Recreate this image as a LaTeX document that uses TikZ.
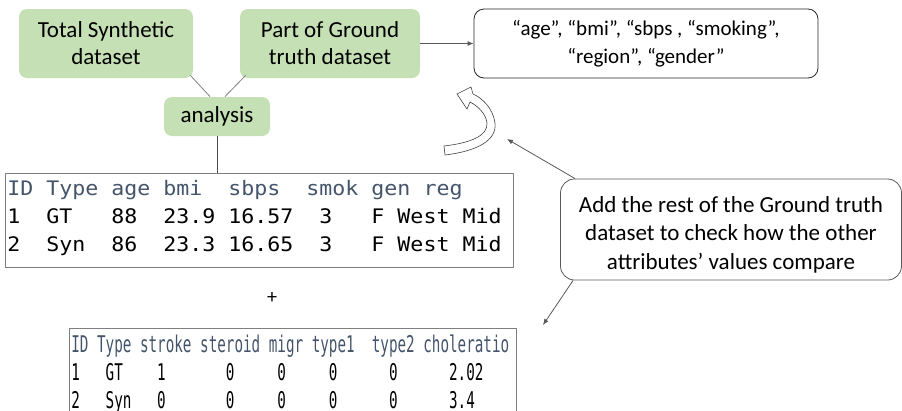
\documentclass[tikz,border=0pt]{standalone}
\usepackage{fontspec}
\setmainfont{Carlito}
\newfontfamily\tabfont[FakeStretch=1.08]{DejaVu Sans Mono}
\newfontfamily\tabnarrow[FakeStretch=0.62]{DejaVu Sans Mono}
\newcommand{\colgap}{\settowidth{\spaceskip}{0}\xspaceskip=\spaceskip}
\usetikzlibrary{arrows.meta,shapes}
\definecolor{boxgreen}{HTML}{C5E0B4}
\definecolor{headblue}{HTML}{44546A}
\definecolor{linegray}{HTML}{7F7F7F}

\begin{document}
\begin{tikzpicture}[x=1pt,y=-1pt,line width=0.8pt,>={Latex[length=6pt,width=5pt]}]
\tikzstyle{grn}=[fill=boxgreen,rounded corners=8pt,font=\fontsize{23}{27}\selectfont,align=center,inner sep=0pt];
\tikzstyle{note}=[draw=black!85,rounded corners=10pt,font=\fontsize{21}{28}\selectfont,align=center,inner sep=0pt];
\tikzstyle{tab}=[draw=linegray,align=left,anchor=north west,inner xsep=2pt,inner ysep=0pt];
\tikzstyle{link}=[draw=linegray];
\tikzstyle{dir}=[->,draw=black!65];

\useasboundingbox (0,0) rectangle (902,410);

\node [grn,minimum width=174,minimum height=69] (tsyn) at (106,43.5) {Total Synthetic\\dataset};
\node [grn,minimum width=180,minimum height=69] (pgt) at (330,43.5) {Part of Ground\\truth dataset};
\node [grn,minimum width=106,minimum height=39] (ana) at (217,116.5) {analysis};
\node [note,minimum width=344,minimum height=69] (attr) at (646,43.5) {“age”, “bmi”, “sbps , “smoking”,\\“region”, “gender”};
\node [note,draw=black!65,rounded corners=14pt,font=\fontsize{23}{28.5}\selectfont,minimum width=341,minimum height=101] (add) at (731,229.5) {\rule{0pt}{26pt}Add the rest of the Ground truth\\dataset to check how the other\\attributes’ values compare};

\node [tab,text width=504,minimum height=94,font=\tabfont\fontsize{20}{28}\selectfont] (tgt) at (5,173) {\colgap\textcolor{headblue}{ID Type age bmi~~sbps~~smok gen reg}\\
1~~GT~~~88~~23.9 16.57~~3~~~F West Mid\\
2~~Syn~~86~~23.3 16.65~~3~~~F West Mid\rule[-10pt]{0pt}{0pt}};
\node [font=\fontsize{20}{24}\selectfont] (plus) at (272,298) {+};
\node [tab,text width=443,minimum height=92,font=\tabnarrow\fontsize{23}{28}\selectfont] (trest) at (69,328) {\colgap\textcolor{headblue}{ID Type stroke steroid migr type1~~type2 choleratio}\\
1~~~GT~~~~1~~~~~~~0~~~~~0~~~~~0~~~~~~0~~~~~~2.02\\
2~~~Syn~~~0~~~~~~~0~~~~~0~~~~~0~~~~~~0~~~~~~3.4};

\coordinate (cup) at (507,139);
\coordinate (cdn) at (543,325);

\draw [link] ([shift={(-3,-3)}]tsyn.south east) -- ([xshift=-7]ana.north);
\draw [link] ([shift={(6,-3)}]pgt.south west) -- ([xshift=8]ana.north);
\draw [link,draw=black!70] (ana) -- (ana |- tgt.north);
\draw [dir] (pgt) -- (attr);
\draw [dir] ([xshift=15]add.north west) -- (cup);
\draw [dir] ([xshift=13]add.south west) -- (cdn);

% turn-back arrow
\draw [draw=black!75,fill=white,line width=0.6pt] (445,155) .. controls (478,151) and (497,140) .. (495,123)
  .. controls (493,108) and (482,98) .. (473,94) -- (471,87) -- (457,94) -- (467,109) -- (470,102)
  .. controls (478,106) and (486,114) .. (487,123) .. controls (488,136) and (470,143) .. (444,146) -- cycle;
\end{tikzpicture}
\end{document}
